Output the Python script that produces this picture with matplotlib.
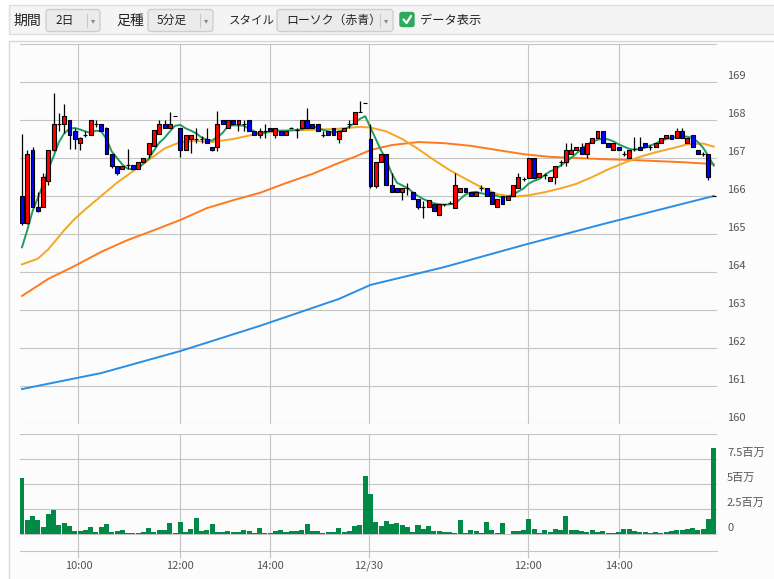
import matplotlib
matplotlib.use("Agg")
import matplotlib.pyplot as plt
from matplotlib.patches import Rectangle, FancyBboxPatch
from matplotlib.transforms import ScaledTranslation, blended_transform_factory

plt.rcParams['font.family'] = ['Noto Sans CJK JP', 'DejaVu Sans']

# ---------------- data ----------------
opens = [
    166.00, 165.30, 167.22, 165.72, 165.72, 166.39, 167.21, 167.89, 167.89, 168.00,
    167.71, 167.40, 167.60, 167.61, 167.89, 167.89, 167.80, 167.10, 166.79, 166.70,
    166.82, 166.82, 166.70, 166.90, 167.10, 167.32, 167.62, 167.90, 167.80, 168.10,
    167.80, 167.21, 167.49, 167.49, 167.49, 167.49, 167.30, 167.30, 168.00, 167.80,
    168.00, 167.90, 167.90, 168.00, 167.71, 167.60, 167.71, 167.80, 167.60, 167.71,
    167.60, 167.80, 167.75, 167.80, 168.00, 167.90, 167.89, 167.60, 167.71, 167.80,
    167.49, 167.71, 167.90, 167.90, 168.22, 168.44,
    167.49, 166.26, 166.90, 167.11, 166.29, 166.22, 166.11, 166.22, 166.11, 165.91,
    165.71, 165.71, 165.80, 165.50, 165.78, 165.82, 165.69, 166.11, 166.22, 166.11,
    166.00, 166.22, 166.22, 166.11, 165.71, 166.00, 165.89, 166.00, 166.22, 166.45,
    166.48, 166.99, 166.50, 166.55, 166.40, 166.50, 166.90, 166.90, 167.10, 167.20,
    167.29, 167.11, 167.40, 167.52, 167.71, 167.40, 167.20, 167.29, 167.11, 167.00,
    167.25, 167.29, 167.40, 167.29, 167.29, 167.40, 167.52, 167.61, 167.52, 167.71,
    167.40, 167.61, 167.21, 167.10, 167.11, 166.00,
]
closes = [
    165.30, 167.11, 165.72, 165.60, 166.51, 167.21, 167.89, 167.89, 168.10, 167.61,
    167.49, 167.52, 167.60, 168.00, 167.89, 167.71, 167.10, 166.79, 166.60, 166.79,
    166.82, 166.70, 166.90, 167.00, 167.40, 167.73, 167.90, 167.80, 167.90, 168.10,
    167.21, 167.61, 167.61, 167.49, 167.49, 167.40, 167.21, 167.89, 167.90, 168.00,
    167.90, 168.00, 167.90, 167.71, 167.60, 167.71, 167.71, 167.71, 167.80, 167.60,
    167.71, 167.80, 167.75, 168.00, 167.80, 167.80, 167.71, 167.60, 167.60, 167.60,
    167.71, 167.80, 167.90, 168.22, 168.22, 168.44,
    166.26, 166.90, 167.11, 166.29, 166.11, 166.11, 166.22, 166.22, 165.91, 165.71,
    165.71, 165.89, 165.60, 165.80, 165.78, 165.82, 166.29, 166.22, 166.11, 166.00,
    166.11, 166.22, 166.00, 165.80, 165.91, 165.80, 166.00, 166.29, 166.50, 166.45,
    166.99, 166.48, 166.61, 166.55, 166.50, 166.79, 166.90, 167.21, 167.21, 167.29,
    167.11, 167.40, 167.52, 167.71, 167.40, 167.29, 167.40, 167.20, 167.11, 167.21,
    167.25, 167.20, 167.29, 167.29, 167.40, 167.52, 167.61, 167.49, 167.71, 167.52,
    167.52, 167.29, 167.11, 167.10, 166.50, 166.00,
]
highs = [
    167.62, 167.22, 167.28, 166.10, 166.61, 167.21, 168.72, 168.19, 168.41, 168.00,
    167.80, 167.55, 167.71, 168.00, 168.00, 167.90, 167.82, 167.10, 166.79, 166.79,
    167.23, 166.82, 166.90, 167.00, 167.40, 167.73, 168.00, 168.00, 168.22, 168.10,
    167.80, 167.61, 167.61, 167.80, 167.58, 167.80, 167.30, 168.23, 168.00, 168.00,
    168.00, 168.00, 168.00, 168.00, 167.71, 167.80, 167.90, 167.80, 167.80, 167.71,
    167.71, 167.82, 167.80, 168.00, 168.31, 167.90, 167.89, 167.71, 167.71, 167.80,
    167.71, 167.80, 168.00, 168.22, 168.50, 168.44,
    167.90, 166.90, 167.11, 167.11, 166.61, 166.22, 166.22, 166.35, 166.11, 165.91,
    165.87, 165.89, 165.80, 165.80, 165.80, 165.87, 166.61, 166.22, 166.22, 166.11,
    166.11, 166.30, 166.22, 166.11, 165.91, 166.00, 166.00, 166.29, 166.61, 166.50,
    166.99, 166.99, 166.61, 166.61, 166.50, 166.79, 166.96, 167.40, 167.40, 167.29,
    167.40, 167.40, 167.52, 167.71, 167.71, 167.40, 167.40, 167.29, 167.18, 167.21,
    167.54, 167.54, 167.40, 167.35, 167.40, 167.52, 167.61, 167.61, 167.80, 167.80,
    167.52, 167.61, 167.21, 167.15, 167.11, 166.00,
]
lows = [
    165.25, 165.27, 165.70, 165.58, 165.72, 166.30, 167.18, 167.71, 167.67, 167.23,
    167.23, 167.20, 167.54, 167.61, 167.82, 167.70, 167.10, 166.75, 166.55, 166.70,
    166.70, 166.70, 166.70, 166.90, 167.00, 167.32, 167.62, 167.80, 167.80, 168.10,
    167.03, 167.21, 167.14, 167.40, 167.40, 167.40, 167.18, 167.18, 167.90, 167.80,
    167.90, 167.71, 167.71, 167.71, 167.60, 167.52, 167.52, 167.71, 167.52, 167.60,
    167.60, 167.78, 167.52, 167.80, 167.80, 167.80, 167.71, 167.54, 167.60, 167.60,
    167.40, 167.71, 167.80, 167.90, 168.20, 168.44,
    166.22, 166.20, 166.90, 166.29, 166.11, 166.11, 165.90, 166.03, 165.91, 165.65,
    165.43, 165.71, 165.60, 165.50, 165.75, 165.78, 165.69, 166.11, 166.11, 166.00,
    166.00, 166.13, 166.00, 165.80, 165.71, 165.80, 165.89, 166.00, 166.22, 166.40,
    166.48, 166.48, 166.50, 166.46, 166.40, 166.31, 166.79, 166.79, 167.10, 167.20,
    167.11, 167.00, 167.40, 167.52, 167.40, 167.29, 167.20, 167.20, 167.05, 167.00,
    167.18, 167.20, 167.29, 167.20, 167.29, 167.40, 167.52, 167.49, 167.52, 167.52,
    167.40, 167.29, 167.11, 167.05, 166.41, 166.00,
]
volumes = [  # millions of shares
    5.57, 1.37, 1.77, 1.37, 0.67, 1.97, 2.43, 0.87, 1.07, 0.77,
    0.33, 0.30, 0.40, 0.67, 0.20, 0.67, 0.97, 0.20, 0.33, 0.40,
    0.07, 0.07, 0.10, 0.20, 0.57, 0.20, 0.40, 0.40, 1.07, 0.07,
    1.17, 0.20, 0.47, 1.57, 0.30, 0.40, 0.97, 0.20, 0.20, 0.27,
    0.20, 0.20, 0.37, 0.27, 0.10, 0.57, 0.07, 0.10, 0.30, 0.40,
    0.20, 0.27, 0.27, 0.40, 0.97, 0.27, 0.27, 0.10, 0.17, 0.20,
    0.57, 0.20, 0.30, 0.77, 0.87, 5.77,
    4.00, 1.17, 0.77, 1.27, 0.97, 1.07, 0.87, 0.67, 0.17, 0.87,
    0.50, 0.77, 0.30, 0.30, 0.17, 0.17, 0.10, 1.37, 0.07, 0.37,
    0.27, 0.10, 1.17, 0.37, 0.10, 1.07, 0.05, 0.30, 0.30, 0.37,
    1.47, 0.47, 0.10, 0.37, 0.17, 0.47, 0.40, 1.77, 0.37, 0.37,
    0.27, 0.17, 0.37, 0.17, 0.27, 0.10, 0.07, 0.17, 0.47, 0.47,
    0.27, 0.17, 0.17, 0.07, 0.17, 0.10, 0.17, 0.30, 0.37, 0.37,
    0.47, 0.57, 0.37, 0.47, 1.47, 8.57,
]

# short moving average (one value per bar)
ma_short = [
    164.65, 165.10, 165.60, 165.95, 166.30, 166.70, 167.05, 167.42, 167.65, 167.77,
    167.79, 167.75, 167.70, 167.66, 167.72, 167.70, 167.50, 167.17, 167.00, 166.83,
    166.72, 166.70, 166.72, 166.85, 166.98, 167.20, 167.40, 167.53, 167.70, 167.85,
    167.87, 167.78, 167.72, 167.65, 167.54, 167.48, 167.46, 167.55, 167.66, 167.84,
    167.86, 167.86, 167.85, 167.77, 167.70, 167.62, 167.66, 167.71, 167.72, 167.72,
    167.72, 167.73, 167.74, 167.75, 167.80, 167.83, 167.80, 167.74, 167.70, 167.67,
    167.70, 167.74, 167.83, 167.92, 168.03, 168.10,
    167.80, 167.50, 167.20, 166.95, 166.60, 166.35, 166.28, 166.21, 166.10, 166.00,
    165.92, 165.86, 165.81, 165.78, 165.77, 165.78, 165.80, 165.92, 166.04, 166.09,
    166.11, 166.07, 166.05, 166.03, 166.00, 165.96, 165.99, 166.03, 166.12, 166.20,
    166.33, 166.40, 166.45, 166.55, 166.65, 166.70, 166.80, 166.90, 167.00, 167.12,
    167.24, 167.35, 167.43, 167.48, 167.51, 167.49, 167.44, 167.36, 167.30, 167.24,
    167.22, 167.24, 167.27, 167.33, 167.38, 167.45, 167.50, 167.53, 167.55, 167.57,
    167.56, 167.53, 167.42, 167.27, 167.05, 166.80,
]
# medium moving average (sampled bars)
ma_mid_bar = [0, 3, 5, 8, 10, 12, 15, 18, 21, 24, 27, 30, 33, 36, 40, 45, 50, 55, 60, 64,
              66, 69, 72, 75, 78, 81, 84, 87, 90, 93, 96, 99, 102, 105, 108, 111, 114, 117,
              120, 123, 126, 129, 131]
ma_mid = [164.20, 164.35, 164.60, 165.10, 165.40, 165.65, 166.00, 166.35, 166.65, 166.95,
          167.25, 167.42, 167.45, 167.42, 167.50, 167.65, 167.72, 167.74, 167.77, 167.82,
          167.80, 167.70, 167.50, 167.24, 166.95, 166.68, 166.45, 166.23, 166.05, 165.98,
          166.02, 166.10, 166.20, 166.32, 166.50, 166.70, 166.87, 167.03, 167.15, 167.25,
          167.36, 167.38, 167.30]
# long moving average (sampled bars)
ma_long_bar = [0, 5, 10, 15, 20, 25, 30, 35, 40, 45, 50, 55, 60, 63, 66, 70, 75, 80, 85,
               90, 95, 100, 105, 110, 115, 120, 125, 131]
ma_long = [163.37, 163.82, 164.16, 164.53, 164.84, 165.10, 165.37, 165.68, 165.89, 166.08,
           166.34, 166.58, 166.87, 167.03, 167.21, 167.34, 167.42, 167.39, 167.32, 167.21,
           167.10, 167.03, 167.00, 166.97, 166.95, 166.92, 166.89, 166.84]
# very long moving average (sampled bars)
ma_vlong_bar = [0, 15, 30, 45, 60, 66, 80, 95, 110, 125, 131]
ma_vlong = [160.92, 161.34, 161.92, 162.58, 163.29, 163.66, 164.13, 164.71, 165.26, 165.79, 166.00]

time_tick_pos = [10.7, 29.9, 47.0, 65.7, 95.8, 113.1]
time_tick_labels = ['10:00', '12:00', '14:00', '12/30', '12:00', '14:00']
price_ticks = [160, 161, 162, 163, 164, 165, 166, 167, 168, 169, 170]
price_labels = ['160', '161', '162', '163', '164', '165', '166', '167', '168', '169', '']
vol_ticks = [0, 2.5, 5, 7.5, 10]
vol_labels = ['0', '2.5百万', '5百万', '7.5百万', '']

# ---------------- style ----------------
UP = '#ff0000'
DOWN = '#0000ff'
C_SHORT = '#1e9e5e'
C_MID = '#f5a623'
C_LONG = '#ff7a1f'
C_VLONG = '#2a8ee6'
C_VOL = '#008a45'
GRID = '#c4c4c4'
TXT = '#555555'

W, H = 774, 579
fig = plt.figure(figsize=(W / 100, H / 100), dpi=100)
fig.patch.set_facecolor('white')

# background / toolbar layer (pixel coords)
bg = fig.add_axes([0, 0, 1, 1], zorder=0)
bg.set_xlim(0, W)
bg.set_ylim(H, 0)
bg.axis('off')
bg.add_patch(Rectangle((8.5, 40.5), W, H, facecolor='#fcfcfc', edgecolor='#d8d8d8', lw=1))
bg.add_patch(Rectangle((8.5, 4.5), W, 29, facecolor='#f4f4f4', edgecolor='#dedede', lw=1))

def dropdown(x0, x1, label, fs):
    bg.add_patch(FancyBboxPatch((x0, 9.5), x1 - x0, 22, boxstyle='round,pad=0,rounding_size=3',
                                facecolor='#ebebeb', edgecolor='#cfcfcf', lw=1))
    bg.text(x0 + 9, 20.5, label, fontsize=fs, color='#222222', va='center', ha='left')
    bg.plot([x1 - 13, x1 - 13], [14, 27], color='#c8c8c8', lw=0.8)
    bg.text(x1 - 7, 20.5, '▾', fontsize=6, color='#888888', va='center', ha='center',
            family=['DejaVu Sans'])

bg.text(13, 20.5, '期間', fontsize=10, color='#222222', va='center', ha='left')
dropdown(46, 100, '2日', 8.5)
bg.text(116, 20.5, '足種', fontsize=10, color='#222222', va='center', ha='left')
dropdown(148, 213, '5分足', 8.5)
bg.text(229, 20.5, 'スタイル', fontsize=8.3, color='#222222', va='center', ha='left')
dropdown(277, 393, 'ローソク（赤青）', 8.6)
bg.add_patch(FancyBboxPatch((400, 12.5), 14, 14, boxstyle='round,pad=0,rounding_size=2',
                            facecolor='#2eaa5c', edgecolor='#2eaa5c', lw=1))
bg.plot([403.5, 406.5, 411], [19.5, 23, 16], color='white', lw=1.6, solid_capstyle='round')
bg.text(420, 20.5, 'データ表示', fontsize=8.8, color='#222222', va='center', ha='left')

# ---------------- price panel ----------------
L = 19.5 / W
AW = 697 / W
ax = fig.add_axes([L, (H - 424) / H, AW, 380 / H], zorder=1)
axv = fig.add_axes([L, (H - 551) / H, AW, 117 / H], zorder=1)

n = len(opens)
xs = list(range(n))
for a in (ax, axv):
    a.set_xlim(-0.47, n - 0.47)
    a.set_facecolor('none')
    for s in a.spines.values():
        s.set_visible(False)
    a.set_xticks(time_tick_pos)
    for p in time_tick_pos:
        a.axvline(p, color=GRID, lw=0.8, zorder=0)

ax.set_ylim(160, 170)
ax.set_yticks([])
ax.tick_params(axis='x', length=0, labelbottom=False)
for v in price_ticks:
    ax.axhline(v, color=GRID, lw=0.8, zorder=0)

# moving averages
ax.plot(ma_vlong_bar, ma_vlong, color=C_VLONG, lw=1.4, zorder=2)
ax.plot(ma_long_bar, ma_long, color=C_LONG, lw=1.4, zorder=2)
ax.plot(ma_mid_bar, ma_mid, color=C_MID, lw=1.4, zorder=2)
ax.plot(xs, ma_short, color=C_SHORT, lw=1.4, zorder=2)

# candles
bw = 0.74
for i in xs:
    o, h, l, c = opens[i], highs[i], lows[i], closes[i]
    ax.vlines(i, l, h, color='black', lw=0.9, zorder=3)
    if c > o:
        fc = UP
    elif c < o:
        fc = DOWN
    else:
        fc = 'black'
    ax.add_patch(Rectangle((i - bw / 2, min(o, c)), bw, abs(c - o), facecolor=fc,
                           edgecolor='black', lw=0.8, zorder=4))

off = ScaledTranslation(0, 0.06, fig.dpi_scale_trans)
tr = blended_transform_factory(ax.transAxes, ax.transData) + off
for v, s in zip(price_ticks, price_labels):
    ax.text(1 + 10.5 / 697, v, s, transform=tr, fontsize=8, color=TXT, va='center', ha='left',
            clip_on=False)

# ---------------- volume panel ----------------
axv.set_ylim(-1.7, 10)
axv.set_yticks([])
for v in vol_ticks:
    axv.axhline(v, color=GRID, lw=0.8, zorder=0)
axv.bar(xs, volumes, width=0.95, color=C_VOL, zorder=2)
axv.spines['bottom'].set_visible(True)
axv.spines['bottom'].set_color(GRID)
axv.spines['bottom'].set_linewidth(0.8)
axv.set_xticklabels(time_tick_labels, fontsize=8, color=TXT)
axv.tick_params(axis='x', length=5, color=GRID, width=0.8, pad=2)
trv = blended_transform_factory(axv.transAxes, axv.transData) + off
for v, s in zip(vol_ticks, vol_labels):
    axv.text(1 + 10.5 / 697, v, s, transform=trv, fontsize=8, color=TXT, va='center', ha='left',
             clip_on=False)

fig.savefig('out.png', dpi=100)
